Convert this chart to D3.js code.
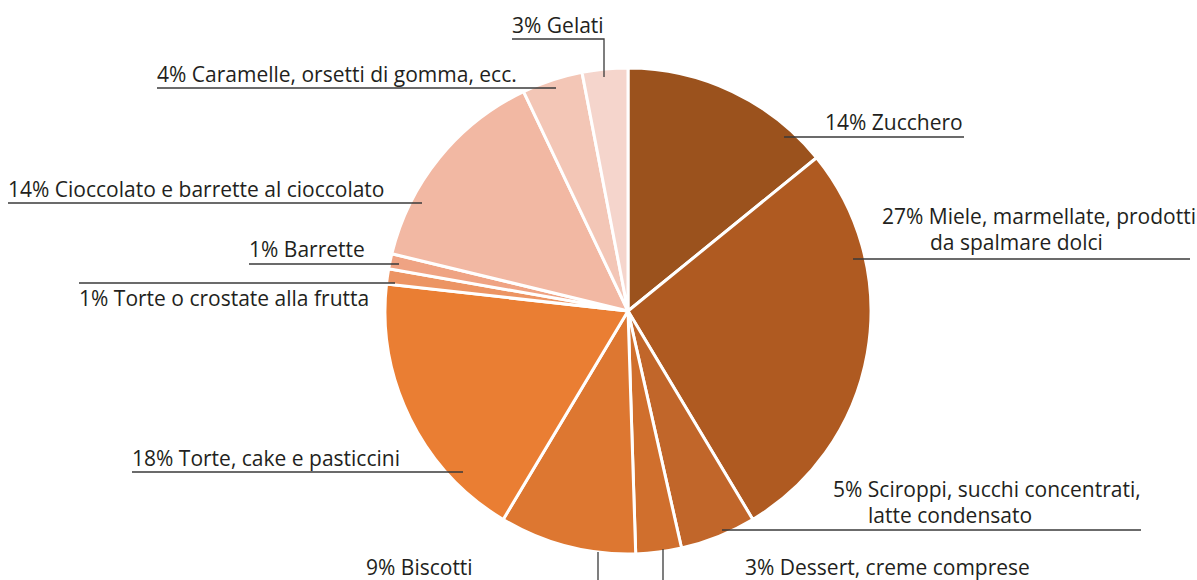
<!DOCTYPE html>
<html>
<head>
<meta charset="utf-8">
<script src="https://cdn.jsdelivr.net/npm/d3@7"></script>
<style>
  html, body { margin: 0; padding: 0; background: #fff; }
  svg { display: block; }
  text { font-family: "Open Sans", "Noto Sans", sans-serif; fill: #231f20; }
</style>
</head>
<body>
<svg id="chart" width="1197" height="580"></svg>
<script>
// Categories, clockwise from 12 o'clock
const categories = [
  "Zucchero",
  "Miele, marmellate, prodotti da spalmare dolci",
  "Sciroppi, succhi concentrati, latte condensato",
  "Dessert, creme comprese",
  "Biscotti",
  "Torte, cake e pasticcini",
  "Torte o crostate alla frutta",
  "Barrette",
  "Cioccolato e barrette al cioccolato",
  "Caramelle, orsetti di gomma, ecc.",
  "Gelati"
];
// Share of each category (%)
const shares = [14, 27, 5, 3, 9, 18, 1, 1, 14, 4, 3];
// Label text lines for each slice
const labelLines = [
  ["14% Zucchero"],
  ["27% Miele, marmellate, prodotti", "da spalmare dolci"],
  ["5% Sciroppi, succhi concentrati,", "latte condensato"],
  ["3% Dessert, creme comprese"],
  ["9% Biscotti"],
  ["18% Torte, cake e pasticcini"],
  ["1% Torte o crostate alla frutta"],
  ["1% Barrette"],
  ["14% Cioccolato e barrette al cioccolato"],
  ["4% Caramelle, orsetti di gomma, ecc."],
  ["3% Gelati"]
];
const colors = [
  "#9b521d", "#af5a21", "#c1662a", "#d06f2d", "#dd7731", "#ea7e33",
  "#ec9463", "#efa383", "#f2b8a3", "#f3c6b6", "#f5d5cc"
];

// Layout of the labels: text anchor, line offsets and leader path
const labelLayout = [
  { x: 825, y: 130, lines: [0], leader: [[784, 137], [964, 137]] },
  { x: 882, y: 224, lines: [0, 48], leader: [[853, 259], [1190, 259]] },
  { x: 833, y: 497, lines: [0, 35], leader: [[722, 530], [1141, 530]] },
  { x: 745, y: 575, lines: [0], leader: [[663, 549], [663, 580]] },
  { x: 366, y: 575, lines: [0], leader: [[598, 552], [598, 580]] },
  { x: 132, y: 466, lines: [0], leader: [[132, 472], [463, 472]] },
  { x: 79, y: 306, lines: [0], leader: [[79, 283], [395, 283]] },
  { x: 249, y: 257, lines: [0], leader: [[249, 264], [399, 264]] },
  { x: 8, y: 197, lines: [0], leader: [[8, 203], [422, 203]] },
  { x: 157, y: 82, lines: [0], leader: [[157, 88], [556, 88]] },
  { x: 512, y: 33, lines: [0], leader: [[512, 39], [604, 39], [604, 77]] }
];

const svg = d3.select("#chart");
const cx = 628, cy = 311, radius = 243;

const color = d3.scaleOrdinal().domain(categories).range(colors);

const pie = d3.pie()
  .value(d => d.value)
  .sort(null)
  .startAngle(0)
  .endAngle(2 * Math.PI);

const data = categories.map((c, i) => ({ name: c, value: shares[i] }));
const arcs = pie(data);

const arc = d3.arc().innerRadius(0).outerRadius(radius);

const g = svg.append("g").attr("transform", `translate(${cx},${cy})`);

g.selectAll("path.slice")
  .data(arcs)
  .join("path")
  .attr("class", "slice")
  .attr("d", arc)
  .attr("fill", d => color(d.data.name))
  .attr("stroke", "#ffffff")
  .attr("stroke-width", 3)
  .attr("stroke-linejoin", "round");

// Leader lines
const line = d3.line();
svg.append("g")
  .selectAll("path.leader")
  .data(labelLayout)
  .join("path")
  .attr("class", "leader")
  .attr("d", d => line(d.leader))
  .attr("fill", "none")
  .attr("stroke", "#3a3a3a")
  .attr("stroke-width", 1.3);

// Labels
const labels = svg.append("g")
  .selectAll("text.label")
  .data(labelLayout)
  .join("text")
  .attr("class", "label")
  .attr("x", d => d.x)
  .attr("y", d => d.y)
  .style("font-size", "21px");

labels.each(function (d, i) {
  const t = d3.select(this);
  labelLines[i].forEach((txt, k) => {
    t.append("tspan")
      .text(txt)
      .attr("x", d.x + d.lines[k])
      .attr("y", d.y + (k ? 26 : 0));
  });
});
</script>
</body>
</html>
